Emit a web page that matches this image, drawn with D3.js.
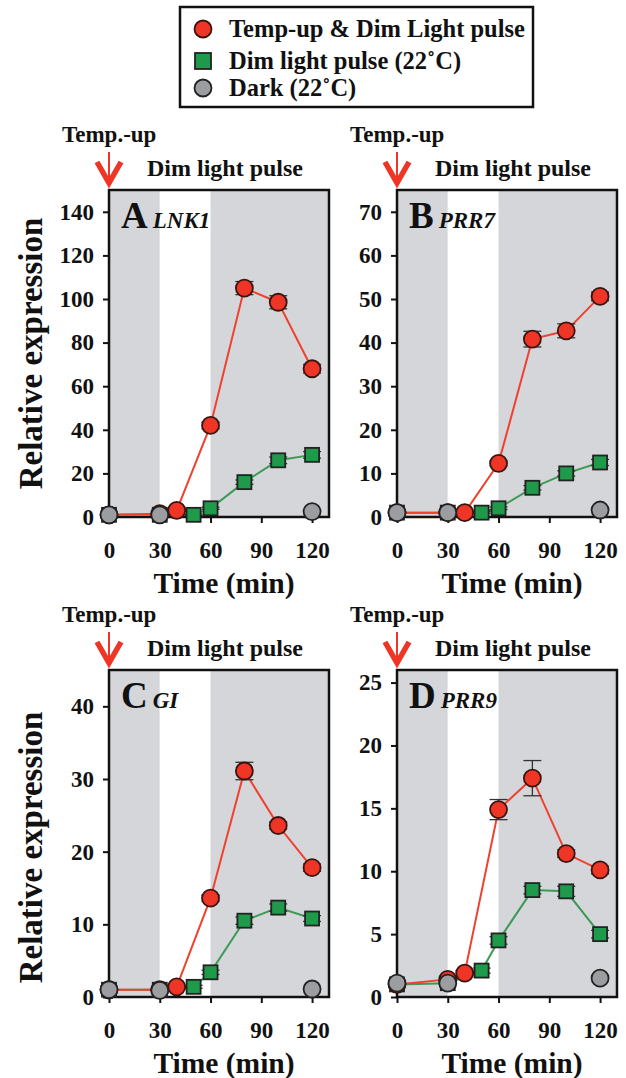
<!DOCTYPE html>
<html>
<head>
<meta charset="utf-8">
<script src="https://cdn.jsdelivr.net/npm/d3@7"></script>
<style>
  body { margin: 0; background: #fff; }
  text { font-family: "Liberation Serif", "Times New Roman", serif; font-weight: bold; }
</style>
</head>
<body>
<div id="chart"></div>
<script>
// ---- data ----
const seriesNames = ["Temp-up & Dim Light pulse", "Dim light pulse (22\u02DAC)", "Dark (22\u02DAC)"];
const redTimes = [0, 30, 40, 60, 80, 100, 120];
const greenTimes = [0, 30, 50, 60, 80, 100, 120];
const darkTimes = [0, 30, 120];
const xTicks = [0, 30, 60, 90, 120];

// A LNK1
const lnk1Red = [1, 1.5, 3, 42, 105, 98.5, 68];
const lnk1RedErr = [0.3, 0.3, 0.5, 1.5, 3, 3, 2];
const lnk1Green = [1, 1, 1, 4, 16, 26, 28.5];
const lnk1GreenErr = [0.2, 0.2, 0.3, 0.5, 1, 1.5, 1.5];
const lnk1Dark = [1, 1, 2.5];
const lnk1Ticks = [0, 20, 40, 60, 80, 100, 120, 140];

// B PRR7
const prr7Red = [1, 1, 1, 12.3, 40.8, 42.7, 50.6];
const prr7RedErr = [0.2, 0.2, 0.2, 0.5, 1.8, 1.6, 1];
const prr7Green = [1, 1, 1, 2, 6.7, 10, 12.5];
const prr7GreenErr = [0.1, 0.1, 0.2, 0.3, 0.5, 0.6, 0.7];
const prr7Dark = [1, 1, 1.6];
const prr7Ticks = [0, 10, 20, 30, 40, 50, 60, 70];

// C GI
const giRed = [1, 1, 1.4, 13.6, 31.1, 23.6, 17.8];
const giRedErr = [0.1, 0.1, 0.2, 0.4, 1.2, 0.5, 0.5];
const giGreen = [1, 1, 1.4, 3.4, 10.5, 12.3, 10.8];
const giGreenErr = [0.1, 0.1, 0.2, 0.3, 0.5, 0.5, 0.4];
const giDark = [1, 0.9, 1.1];
const giTicks = [0, 10, 20, 30, 40];

// D PRR9
const prr9Red = [1, 1.4, 1.9, 14.9, 17.4, 11.4, 10.1];
const prr9RedErr = [0.1, 0.1, 0.2, 0.8, 1.4, 0.3, 0.3];
const prr9Green = [1, 1.1, 2.1, 4.5, 8.5, 8.4, 5];
const prr9GreenErr = [0.1, 0.1, 0.2, 0.3, 0.3, 0.4, 0.3];
const prr9Dark = [1.1, 1.1, 1.5];
const prr9Ticks = [0, 5, 10, 15, 20, 25];

// ---- layout ----
const W = 626, H = 1078;
const boxW = 220, boxH = 327;
const RED = "#ef3526", GREEN = "#1f9a4a", GREY = "#9c9da1";
const SHADE = "#d4d6da";

const zip = (ts, vs, es) => ts.map((t, i) => ({ t: t, v: vs[i], e: es ? es[i] : 0 }));

const panels = [
  { letter: "A", gene: "LNK1", x0: 109, y0: 190, yMax: 150, ticks: lnk1Ticks, yLabel: true,
    red: zip(redTimes, lnk1Red, lnk1RedErr), green: zip(greenTimes, lnk1Green, lnk1GreenErr), dark: zip(darkTimes, lnk1Dark) },
  { letter: "B", gene: "PRR7", x0: 397, y0: 190, yMax: 75, ticks: prr7Ticks, yLabel: false,
    red: zip(redTimes, prr7Red, prr7RedErr), green: zip(greenTimes, prr7Green, prr7GreenErr), dark: zip(darkTimes, prr7Dark) },
  { letter: "C", gene: "GI", x0: 109, y0: 670, yMax: 45, ticks: giTicks, yLabel: true,
    red: zip(redTimes, giRed, giRedErr), green: zip(greenTimes, giGreen, giGreenErr), dark: zip(darkTimes, giDark) },
  { letter: "D", gene: "PRR9", x0: 397, y0: 670, yMax: 26, ticks: prr9Ticks, yLabel: false,
    red: zip(redTimes, prr9Red, prr9RedErr), green: zip(greenTimes, prr9Green, prr9GreenErr), dark: zip(darkTimes, prr9Dark) }
];

const svg = d3.select("#chart").append("svg")
  .attr("width", W).attr("height", H);

// ---- legend ----
const legend = svg.append("g");
legend.append("rect")
  .attr("x", 180).attr("y", 7).attr("width", 353).attr("height", 100)
  .attr("fill", "#fff").attr("stroke", "#111").attr("stroke-width", 2.5);
const legendRows = [29, 61, 88];
legend.append("circle").attr("cx", 203).attr("cy", legendRows[0]).attr("r", 8.5)
  .attr("fill", RED).attr("stroke", "#3a1510").attr("stroke-width", 1.8);
legend.append("rect").attr("x", 195).attr("y", legendRows[1] - 8).attr("width", 16).attr("height", 16)
  .attr("fill", GREEN).attr("stroke", "#222").attr("stroke-width", 1.8);
legend.append("circle").attr("cx", 203).attr("cy", legendRows[2]).attr("r", 8.5)
  .attr("fill", GREY).attr("stroke", "#222").attr("stroke-width", 1.8);
seriesNames.forEach((name, i) => {
  legend.append("text")
    .attr("x", 229).attr("y", legendRows[i] + 8)
    .attr("font-size", 24.5).attr("fill", "#111")
    .text(name);
});

// ---- panels ----
panels.forEach(p => {
  const g = svg.append("g");
  const x = d3.scaleLinear().domain([0, 130]).range([p.x0, p.x0 + boxW]);
  const y = d3.scaleLinear().domain([0, p.yMax]).range([p.y0 + boxH, p.y0]);

  // dark / light periods
  const periods = [[0, 30, SHADE], [30, 60, "#fff"], [60, 130, SHADE]];
  g.selectAll("rect.period").data(periods).enter().append("rect")
    .attr("class", "period")
    .attr("x", d => x(d[0])).attr("width", d => x(d[1]) - x(d[0]))
    .attr("y", p.y0).attr("height", boxH)
    .attr("fill", d => d[2]);

  // axes
  const yAxis = g.append("g").attr("transform", `translate(${p.x0},0)`)
    .call(d3.axisLeft(y).tickValues(p.ticks).tickSize(6).tickPadding(9));
  const xAxis = g.append("g").attr("transform", `translate(0,${p.y0 + boxH})`)
    .call(d3.axisBottom(x).tickValues(xTicks).tickSize(6).tickPadding(19));
  [yAxis, xAxis].forEach(a => {
    a.select(".domain").remove();
    a.selectAll("line").attr("stroke", "#111").attr("stroke-width", 2);
    a.selectAll("text").attr("font-size", 23).attr("fill", "#111")
      .style("font-family", "'Liberation Serif', serif").style("font-weight", "bold");
  });

  // frame
  g.append("rect")
    .attr("x", p.x0).attr("y", p.y0).attr("width", boxW).attr("height", boxH)
    .attr("fill", "none").attr("stroke", "#111").attr("stroke-width", 2.5);

  // panel label
  const lab = g.append("text").attr("x", p.x0 + 12).attr("y", p.y0 + 38).attr("fill", "#111");
  lab.append("tspan").attr("font-size", 37).text(p.letter);
  lab.append("tspan").attr("dx", 5).attr("font-size", 23).attr("font-style", "italic").text(p.gene);

  // annotations above
  g.append("text").attr("x", p.x0 - 47).attr("y", p.y0 - 48)
    .attr("font-size", 23).attr("fill", "#111").text("Temp.-up");
  g.append("text").attr("x", p.x0 + 38).attr("y", p.y0 - 14)
    .attr("font-size", 24).attr("fill", "#111").text("Dim light pulse");
  g.append("line")
    .attr("x1", p.x0).attr("x2", p.x0).attr("y1", p.y0 - 38).attr("y2", p.y0 - 6)
    .attr("stroke", RED).attr("stroke-width", 2);
  g.append("path")
    .attr("d", `M${p.x0 - 12},${p.y0 - 28} L${p.x0},${p.y0 - 7} L${p.x0 + 12},${p.y0 - 28}`)
    .attr("fill", "none").attr("stroke", RED).attr("stroke-width", 5.5).attr("stroke-linejoin", "miter");

  // axis titles
  g.append("text")
    .attr("x", p.x0 + boxW / 2 + 5).attr("y", p.y0 + 403)
    .attr("text-anchor", "middle").attr("font-size", 29.5).attr("fill", "#111")
    .text("Time (min)");
  if (p.yLabel) {
    g.append("text")
      .attr("transform", `translate(31,${p.y0 + boxH / 2 + (p.y0 > 400 ? 14 : 0)}) rotate(-90)`)
      .attr("text-anchor", "middle").attr("dominant-baseline", "central")
      .attr("font-size", 33).attr("fill", "#111")
      .text("Relative expression");
  }

  // series
  const line = d3.line().x(d => x(d.t)).y(d => y(d.v));
  const errBars = (data) => {
    const eg = g.append("g").attr("stroke", "#333").attr("stroke-width", 1.3);
    data.filter(d => d.e > 0).forEach(d => {
      eg.append("line").attr("x1", x(d.t)).attr("x2", x(d.t)).attr("y1", y(d.v - d.e)).attr("y2", y(d.v + d.e));
      [d.v - d.e, d.v + d.e].forEach(v => {
        eg.append("line").attr("x1", x(d.t) - 9).attr("x2", x(d.t) + 9).attr("y1", y(v)).attr("y2", y(v));
      });
    });
  };

  g.append("path").datum(p.green).attr("d", line)
    .attr("fill", "none").attr("stroke", "#3c9a55").attr("stroke-width", 2);
  errBars(p.green);
  g.selectAll("rect.green").data(p.green).enter().append("rect")
    .attr("class", "green")
    .attr("x", d => x(d.t) - 7).attr("y", d => y(d.v) - 7)
    .attr("width", 14).attr("height", 14)
    .attr("fill", GREEN).attr("stroke", "#222").attr("stroke-width", 1.8);

  g.append("path").datum(p.red).attr("d", line)
    .attr("fill", "none").attr("stroke", "#f0402e").attr("stroke-width", 2);
  errBars(p.red);
  g.selectAll("circle.red").data(p.red).enter().append("circle")
    .attr("class", "red")
    .attr("cx", d => x(d.t)).attr("cy", d => y(d.v)).attr("r", 8.5)
    .attr("fill", RED).attr("stroke", "#3a1510").attr("stroke-width", 1.8);

  g.selectAll("circle.dark").data(p.dark).enter().append("circle")
    .attr("class", "dark")
    .attr("cx", d => x(d.t)).attr("cy", d => y(d.v)).attr("r", 8.5)
    .attr("fill", GREY).attr("stroke", "#222").attr("stroke-width", 1.8);
});
</script>
</body>
</html>
